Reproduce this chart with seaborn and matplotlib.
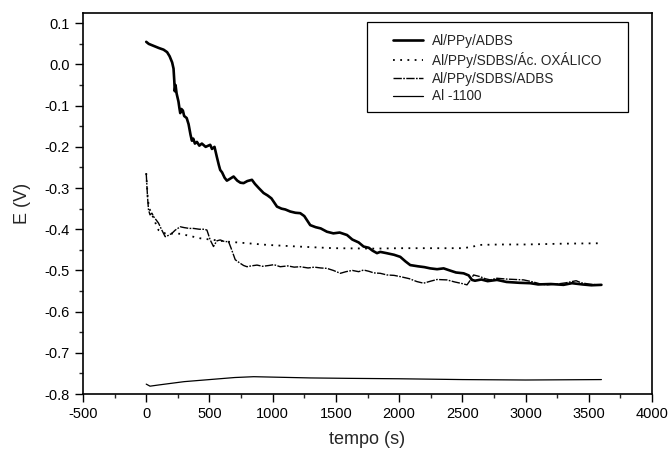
import numpy as np
import pandas as pd
import matplotlib
matplotlib.use("Agg")
import matplotlib.pyplot as plt
from matplotlib.lines import Line2D
from matplotlib.patches import Rectangle
from matplotlib.ticker import MultipleLocator, FormatStrFormatter
import seaborn as sns

sns.set_style("ticks")
plt.rcParams['font.family'] = ['Liberation Sans', 'DejaVu Sans']
plt.rcParams['axes.unicode_minus'] = False

# ---------------- data ----------------
labels = ["Al/PPy/ADBS", "Al/PPy/SDBS/Ác. OXÁLICO", "Al/PPy/SDBS/ADBS", "Al -1100"]

t_adbs = [0, 20, 60, 100, 137, 165, 185, 205, 216, 222, 226, 232, 240, 255, 262, 269, 278, 290, 300, 320,
          335, 350, 361, 372, 385, 401, 420, 440, 470, 506, 520, 540, 559, 575, 585, 600, 620, 638, 660, 691,
          720, 745, 770, 800, 836, 860, 890, 928, 960, 990, 1034, 1070, 1100, 1139, 1180, 1218, 1250, 1297,
          1340, 1380, 1429, 1480, 1530, 1588, 1630, 1680, 1719, 1760, 1790, 1825, 1851, 1900, 1960, 2009,
          2050, 2088, 2150, 2200, 2246, 2300, 2352, 2400, 2450, 2510, 2550, 2576, 2600, 2650, 2700, 2774,
          2850, 2950, 3037, 3100, 3200, 3300, 3367, 3450, 3520, 3600]
e_adbs = [0.055, 0.050, 0.045, 0.040, 0.036, 0.030, 0.020, 0.005, -0.010, -0.040, -0.065, -0.050, -0.070,
          -0.090, -0.105, -0.118, -0.108, -0.112, -0.125, -0.130, -0.145, -0.170, -0.185, -0.180, -0.192,
          -0.188, -0.197, -0.192, -0.200, -0.195, -0.205, -0.200, -0.225, -0.245, -0.256, -0.262, -0.275,
          -0.282, -0.278, -0.272, -0.282, -0.287, -0.288, -0.283, -0.280, -0.290, -0.300, -0.312, -0.318,
          -0.325, -0.345, -0.350, -0.352, -0.357, -0.360, -0.361, -0.368, -0.390, -0.395, -0.398, -0.406,
          -0.410, -0.408, -0.414, -0.425, -0.432, -0.442, -0.445, -0.452, -0.458, -0.455, -0.458, -0.462,
          -0.467, -0.478, -0.487, -0.490, -0.492, -0.495, -0.497, -0.495, -0.500, -0.505, -0.507, -0.512,
          -0.523, -0.525, -0.522, -0.526, -0.523, -0.528, -0.530, -0.531, -0.534, -0.533, -0.535, -0.531,
          -0.534, -0.536, -0.535]

t_oxa = [0, 13, 25, 40, 60, 80, 97, 150, 269, 427, 638, 800, 955, 1200, 1482, 1800, 2009, 2300, 2510,
         2600, 2642, 2800, 3000, 3300, 3600]
e_oxa = [-0.264, -0.329, -0.350, -0.360, -0.375, -0.390, -0.402, -0.410, -0.411, -0.422, -0.430, -0.434,
         -0.438, -0.442, -0.446, -0.447, -0.446, -0.446, -0.446, -0.441, -0.438, -0.437, -0.437, -0.435,
         -0.434]

t_sdbs = [0, 10, 18, 30, 45, 60, 80, 97, 120, 150, 175, 203, 230, 269, 300, 340, 374, 420, 460, 480, 506,
          532, 545, 560, 585, 620, 651, 670, 690, 704, 740, 770, 797, 830, 876, 920, 970, 1010, 1060, 1120,
          1170, 1218, 1280, 1330, 1380, 1429, 1480, 1535, 1580, 1630, 1680, 1719, 1760, 1800, 1851, 1904,
          1960, 2009, 2080, 2140, 2193, 2250, 2300, 2378, 2440, 2500, 2537, 2560, 2589, 2640, 2680, 2721,
          2774, 2850, 2920, 2985, 3060, 3120, 3169, 3250, 3320, 3367, 3400, 3440, 3500, 3600]
e_sdbs = [-0.264, -0.320, -0.353, -0.365, -0.361, -0.370, -0.378, -0.385, -0.400, -0.418, -0.415, -0.410,
          -0.402, -0.394, -0.396, -0.398, -0.398, -0.400, -0.400, -0.402, -0.426, -0.442, -0.435, -0.428,
          -0.426, -0.430, -0.430, -0.445, -0.462, -0.474, -0.482, -0.488, -0.491, -0.489, -0.487, -0.490,
          -0.488, -0.486, -0.491, -0.489, -0.492, -0.491, -0.494, -0.492, -0.494, -0.495, -0.500, -0.507,
          -0.503, -0.500, -0.503, -0.499, -0.502, -0.506, -0.507, -0.511, -0.512, -0.515, -0.520, -0.527,
          -0.531, -0.526, -0.522, -0.523, -0.528, -0.532, -0.535, -0.525, -0.511, -0.515, -0.520, -0.523,
          -0.519, -0.521, -0.522, -0.523, -0.528, -0.533, -0.535, -0.533, -0.530, -0.527, -0.525, -0.530,
          -0.533, -0.536]

t_al = [0, 30, 100, 200, 300, 500, 700, 850, 1000, 1300, 1600, 2000, 2500, 3000, 3600]
e_al = [-0.776, -0.781, -0.778, -0.774, -0.770, -0.765, -0.760, -0.758, -0.759, -0.761, -0.762, -0.763,
        -0.765, -0.766, -0.765]

xticks = [-500, 0, 500, 1000, 1500, 2000, 2500, 3000, 3500, 4000]
yticks = [0.1, 0.0, -0.1, -0.2, -0.3, -0.4, -0.5, -0.6, -0.7, -0.8]

# ---------------- plot ----------------
W, H = 670, 455
fig = plt.figure(figsize=(W/100, H/100), dpi=100)
ax = fig.add_axes([83/W, 1-394/H, (652-83)/W, (394-13)/H])

styles = [
    dict(lw=1.9, ls='-'),
    dict(lw=1.3, ls=(0, (1, 3))),
    dict(lw=1.0, ls=(0, (6, 1, 1.2, 1))),
    dict(lw=0.9, ls='-'),
]
series = [(t_adbs, e_adbs), (t_oxa, e_oxa), (t_sdbs, e_sdbs), (t_al, e_al)]
for (tt, ee), lab, st in zip(series, labels, styles):
    df = pd.DataFrame({"t": tt, "E": ee})
    sns.lineplot(data=df, x="t", y="E", ax=ax, color="black", linewidth=st['lw'],
                 linestyle=st['ls'], estimator=None, sort=False, legend=False)

ax.set_xlim(-500, 4000)
ax.set_ylim(-0.8, 0.125)
ax.set_xticks(xticks)
ax.set_yticks(yticks)
ax.xaxis.set_minor_locator(MultipleLocator(250))
ax.yaxis.set_minor_locator(MultipleLocator(0.05))
ax.yaxis.set_major_formatter(FormatStrFormatter('%.1f'))
ax.tick_params(which='major', direction='out', length=6, width=1.0, labelsize=10.5, colors='black')
ax.tick_params(which='minor', direction='out', length=3, width=1.0)
for s in ax.spines.values():
    s.set_linewidth(1.2)
    s.set_color('black')

ax.set_xlabel("tempo (s)", fontsize=13, labelpad=7)
ax.set_ylabel("E (V)", fontsize=13, labelpad=10)

handles = [Line2D([], [], color='black', linewidth=st['lw'], linestyle=st['ls']) for st in styles]
leg = ax.legend(handles, labels, loc='upper left', bbox_to_anchor=(393/W, 1-34/H),
                bbox_transform=fig.transFigure, borderaxespad=0, borderpad=0,
                fontsize=9.8, frameon=False, handlelength=2.2,
                labelspacing=0.28, handletextpad=0.65)
box = Rectangle((367/W, 1-112/H), 261/W, 90/H, transform=fig.transFigure,
                fill=False, edgecolor='black', linewidth=0.9)
fig.add_artist(box)

fig.savefig("out.png", dpi=100)
